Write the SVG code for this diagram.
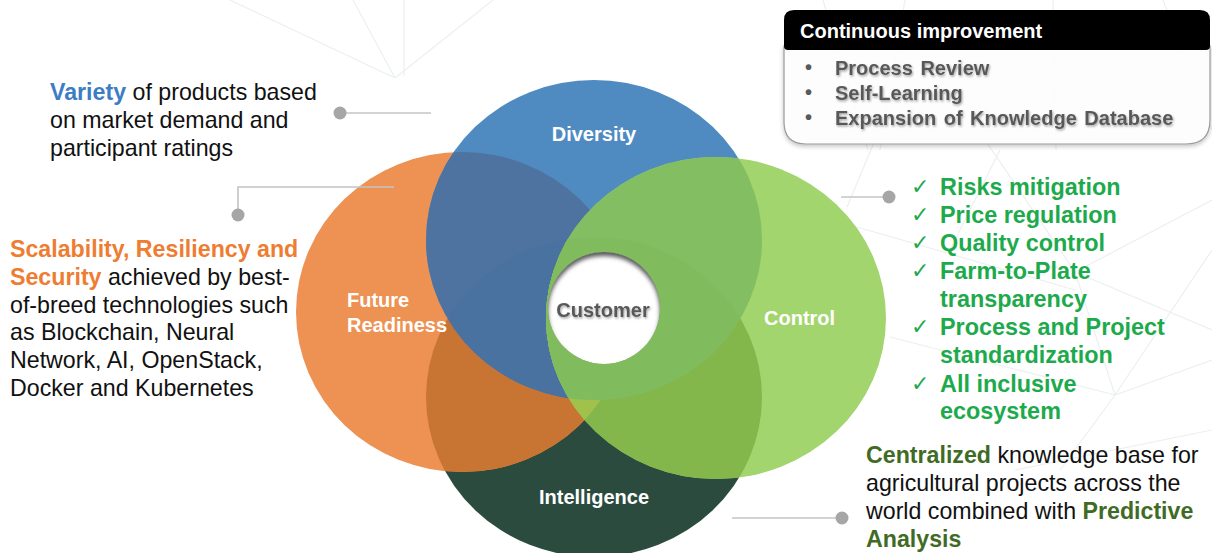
<svg xmlns="http://www.w3.org/2000/svg" width="1212" height="553" viewBox="0 0 1212 553">
<style>
text{font-family:"Liberation Sans",Arial,sans-serif;}
.lbl{font-size:20px;font-weight:bold;fill:#ffffff;}
.body{font-size:23.2px;fill:#111111;}
.b{font-weight:bold;}
.chk{font-size:23.4px;font-weight:bold;fill:#1DAA4C;}
.tick{font-family:"DejaVu Sans",sans-serif;font-size:22px;fill:#1DAA4C;}
.bul{font-size:20px;font-weight:bold;fill:#595959;word-spacing:2px;}
.net{stroke:#EBF0EF;stroke-width:1.2;fill:none;}
.conn{stroke:#C4C4C4;stroke-width:1.6;fill:none;}
.dot{fill:#A6A6A6;}
</style>
<defs>
<clipPath id="cO"><ellipse cx="462" cy="312" rx="166" ry="160"/></clipPath>
<clipPath id="cB"><ellipse cx="594" cy="240" rx="168" ry="160"/></clipPath>
<clipPath id="cG"><ellipse cx="716" cy="318" rx="170" ry="161"/></clipPath>
<clipPath id="cD"><ellipse cx="594" cy="397" rx="168" ry="160"/></clipPath>
<clipPath id="cC"><circle cx="604" cy="308" r="56"/></clipPath>
<filter id="blur2" x="-20%" y="-20%" width="140%" height="140%"><feGaussianBlur stdDeviation="2.2"/></filter>
<filter id="tsh" x="-10%" y="-30%" width="120%" height="160%"><feDropShadow dx="1" dy="1.5" stdDeviation="1" flood-color="#000" flood-opacity="0.35"/></filter>
<filter id="boxsh" x="-5%" y="-10%" width="110%" height="130%"><feDropShadow dx="0" dy="2" stdDeviation="2" flood-color="#000" flood-opacity="0.25"/></filter>
</defs>
<rect width="1212" height="553" fill="#ffffff"/>
<g id="background-network">
<path class="net" d="M230,0 L395,78 M353,0 L395,78 M404,0 L404,76 M493,0 L395,78 M823,0 L868,150 M905,0 L880,150 M1053,0 L1056,150 M1163,0 L1212,130 M875,140 L847,207 M857,227 L1075,290 M1075,272 L1212,200 M1075,272 L1212,330 M985,140 L1075,272 M1075,272 L1115,395 M1115,395 L1212,360 M1212,430 L1015,470 M890,337 L1115,395 M1000,150 L950,250 M1115,395 L1060,470 M1212,250 L1115,395"/>
</g>
<g id="venn">
<ellipse cx="594" cy="397" rx="168" ry="160" fill="#2B4B3E"/>
<ellipse cx="462" cy="312" rx="166" ry="160" fill="#ED9253"/>
<g clip-path="url(#cO)"><ellipse cx="594" cy="397" rx="168" ry="160" fill="#C87533"/></g>
<ellipse cx="594" cy="240" rx="168" ry="160" fill="#4F8BC1"/>
<g clip-path="url(#cB)"><ellipse cx="462" cy="312" rx="166" ry="160" fill="#4E73A0"/></g>
<g clip-path="url(#cB)"><ellipse cx="594" cy="397" rx="168" ry="160" fill="#4A72A0"/></g>
<ellipse cx="716" cy="318" rx="170" ry="161" fill="#A2D56D"/>
<g clip-path="url(#cG)"><ellipse cx="594" cy="397" rx="168" ry="160" fill="#83B74B"/></g>
<g clip-path="url(#cG)"><g clip-path="url(#cD)"><ellipse cx="462" cy="312" rx="166" ry="160" fill="#A0C14B"/></g></g>
<g clip-path="url(#cG)"><ellipse cx="594" cy="240" rx="168" ry="160" fill="#83BE62"/></g>
<g clip-path="url(#cG)"><g clip-path="url(#cB)"><ellipse cx="594" cy="397" rx="168" ry="160" fill="#80BB5E"/></g></g>
</g>
<g id="node-diversity"><text class="lbl" x="594" y="141" text-anchor="middle">Diversity</text></g>
<g id="node-future-readiness"><text class="lbl" x="347" y="307">Future</text><text class="lbl" x="347" y="332">Readiness</text></g>
<g id="node-control"><text class="lbl" x="764" y="325">Control</text></g>
<g id="node-intelligence"><text class="lbl" x="594" y="504" text-anchor="middle">Intelligence</text></g>
<g id="node-customer">
<g clip-path="url(#cC)">
<circle cx="604" cy="308" r="56" fill="#ffffff"/>
<circle cx="604" cy="312" r="62" fill="none" stroke="#5a5a5a" stroke-width="12" filter="url(#blur2)"/>
</g>
<text x="603" y="317" text-anchor="middle" font-size="20" font-weight="bold" fill="#595959" filter="url(#tsh)">Customer</text>
</g>
<g id="connectors">
<path class="conn" d="M340,113 L431,113"/>
<circle class="dot" cx="340" cy="113" r="6.5"/>
<path class="conn" d="M238,215 L238,187 L394,187"/>
<circle class="dot" cx="238" cy="215" r="6.5"/>
<path class="conn" d="M841,197 L889,197"/>
<circle class="dot" cx="889" cy="197" r="6.5"/>
<path class="conn" d="M732,518 L842,518"/>
<circle class="dot" cx="842" cy="518" r="6.5"/>
</g>
<g id="note-variety">
<text class="body" x="50" y="100"><tspan class="b" fill="#3C7DC4">Variety</tspan> of products based</text>
<text class="body" x="50" y="128">on market demand and</text>
<text class="body" x="50" y="156">participant ratings</text>
</g>
<g id="note-scalability">
<text class="body" x="10" y="257"><tspan class="b" fill="#EE7D31">Scalability, Resiliency and</tspan></text>
<text class="body" x="10" y="285"><tspan class="b" fill="#EE7D31">Security</tspan> achieved by best-</text>
<text class="body" x="10" y="313">of-breed technologies such</text>
<text class="body" x="10" y="340">as Blockchain, Neural</text>
<text class="body" x="10" y="368">Network, AI, OpenStack,</text>
<text class="body" x="10" y="396">Docker and Kubernetes</text>
</g>
<g id="note-control">
<text class="tick" x="911" y="194">✓</text>
<text class="tick" x="911" y="222">✓</text>
<text class="tick" x="911" y="250">✓</text>
<text class="tick" x="911" y="278">✓</text>
<text class="tick" x="911" y="334">✓</text>
<text class="tick" x="911" y="391">✓</text>
<text class="chk" x="940" y="195">Risks mitigation</text>
<text class="chk" x="940" y="223">Price regulation</text>
<text class="chk" x="940" y="251">Quality control</text>
<text class="chk" x="940" y="279">Farm-to-Plate</text>
<text class="chk" x="940" y="307">transparency</text>
<text class="chk" x="940" y="335">Process and Project</text>
<text class="chk" x="940" y="363">standardization</text>
<text class="chk" x="940" y="392">All inclusive</text>
<text class="chk" x="940" y="419">ecosystem</text>
</g>
<g id="note-intelligence">
<text class="body" x="866" y="463"><tspan class="b" fill="#3F6B25">Centralized</tspan> knowledge base for</text>
<text class="body" x="866" y="491">agricultural projects across the</text>
<text class="body" x="866" y="519">world combined with <tspan class="b" fill="#3F6B25">Predictive</tspan></text>
<text class="body" x="866" y="547"><tspan class="b" fill="#3F6B25">Analysis</tspan></text>
</g>
<g id="continuous-improvement">
<path d="M784,46 L784,122 Q784,144 806,144 L1186,144 Q1210,144 1210,120 L1210,46 Z" fill="#ffffff" fill-opacity="0.92" stroke="#9a9a9a" stroke-width="1.2" filter="url(#boxsh)"/>
<path d="M794,10 L1200,10 Q1210,10 1210,20 L1210,46 Q1210,50 1206,50 L788,50 Q784,50 784,46 L784,20 Q784,10 794,10 Z" fill="#000000"/>
<text x="800" y="38" font-size="20" font-weight="bold" fill="#ffffff">Continuous improvement</text>
<text class="bul" x="805" y="74">•</text>
<text class="bul" x="805" y="99">•</text>
<text class="bul" x="805" y="124">•</text>
<text class="bul" x="835" y="75" filter="url(#tsh)">Process Review</text>
<text class="bul" x="835" y="100" filter="url(#tsh)">Self-Learning</text>
<text class="bul" x="835" y="125" filter="url(#tsh)">Expansion of Knowledge Database</text>
</g>
</svg>
